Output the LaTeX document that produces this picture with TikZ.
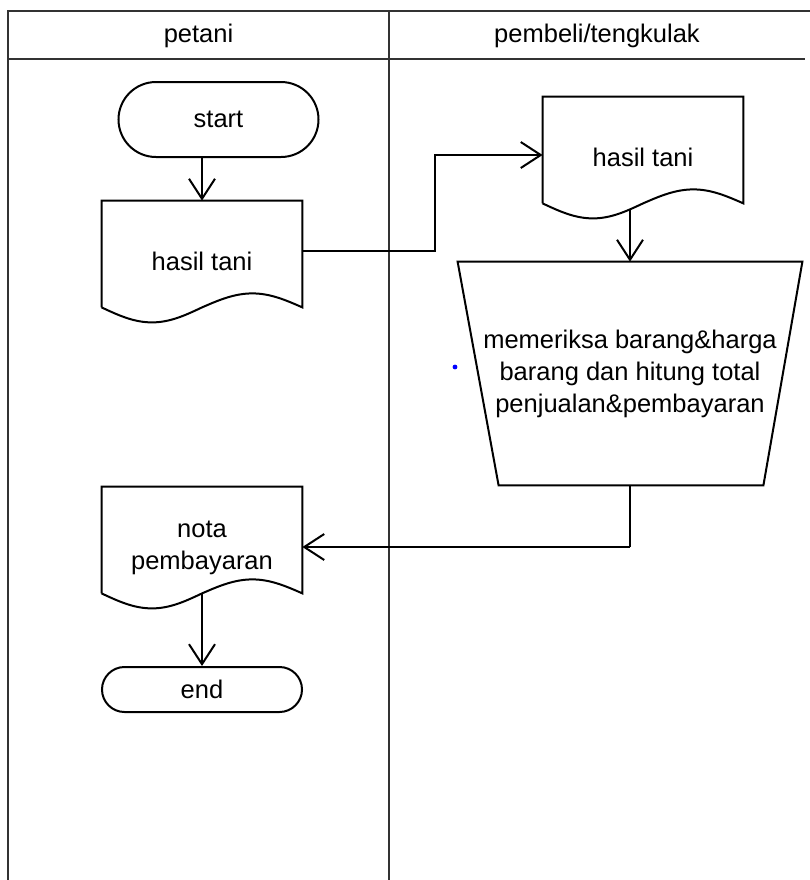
\documentclass[tikz,border=0pt]{standalone}
\usepackage{fontspec}
\setmainfont{Liberation Sans}
\usetikzlibrary{arrows.meta,calc,shapes.misc}
\begin{document}
\begin{tikzpicture}[x=0.5pt,y=-0.5pt,
  every node/.style={font=\fontsize{12.75}{16}\selectfont, inner sep=0pt},
  frameline/.style={line width=1.4pt, draw=black!80},
  shapeline/.style={line width=1pt, draw=black},
  arr/.style={line width=1pt, -{Straight Barb[length=10pt,width=13pt]}},
  term/.style={rounded rectangle, shapeline, minimum width=100pt},
  docbox/.style={rectangle, draw=none, minimum width=100pt, minimum height=60.5pt, align=center},
  trapbox/.style={rectangle, draw=none, minimum width=172pt, minimum height=111.5pt, align=center},
  dotmark/.style={circle, fill=blue, minimum size=2.4pt}
]
\useasboundingbox (0,0) rectangle (810,880);
% swimlane frame
\draw[frameline] (8,880) -- (8,11) -- (810,11);
\draw[frameline] (8,59) -- (805,59);
\draw[frameline] (389,11) -- (389,880);
\node (laneA) at (198.5,36) {petani};
\node (laneB) at (597,36) {pembeli/tengkulak};

\newcommand\docwave[1]{%
  \draw[shapeline] ($(#1.south west)+(0,7.5pt)$) -- (#1.north west) -- (#1.north east)
    -- ($(#1.south east)+(0,7.5pt)$)
    sin ($(#1.south east)+(-25pt,14.5pt)$)
    cos ($(#1.south)+(0,7.5pt)$)
    sin ($(#1.south)+(-25pt,0)$)
    cos ($(#1.south west)+(0,7.5pt)$);}

% nodes
\node[term, minimum height=37.5pt] (start) at (218.5,119.5) {start};
\node[docbox] (hasilA) at (202,261.5) {hasil tani};
\docwave{hasilA}
\node[docbox] (hasilB) at (643,157.5) {hasil tani};
\docwave{hasilB}
\node[trapbox] (trap) at (630,373.5) {memeriksa barang\&harga\\barang dan hitung total\\penjualan\&pembayaran};
\draw[shapeline] (trap.north west) -- (trap.north east) -- ($(trap.south east)+(-19.5pt,0)$)
  -- ($(trap.south west)+(20.5pt,0)$) -- cycle;
\node[docbox] (nota) at (202,547.5) {nota\\pembayaran};
\docwave{nota}
\node[term, minimum height=22.5pt] (end) at (202,689.5) {end};
\node[dotmark] (dot) at (455,367) {};

% connectors
\coordinate (bend1) at (435,251);
\coordinate (bend2) at (435,155);
\coordinate (w2) at (630,209);
\coordinate (bend3) at (630,547);
\draw[arr] (hasilA.north |- start.south) -- (hasilA.north);
\draw[arr] (hasilA.east |- bend1) -- (bend1) -- (bend2) -- (bend2 -| hasilB.west);
\draw[arr] (w2) -- (w2 |- trap.north);
\draw[line width=1pt] (trap.south) -- (bend3);
\draw[arr] (bend3) -- (bend3 -| nota.east);
\draw[arr] ($(nota.south)+(0,7.5pt)$) -- (end.north);
\end{tikzpicture}
\end{document}
